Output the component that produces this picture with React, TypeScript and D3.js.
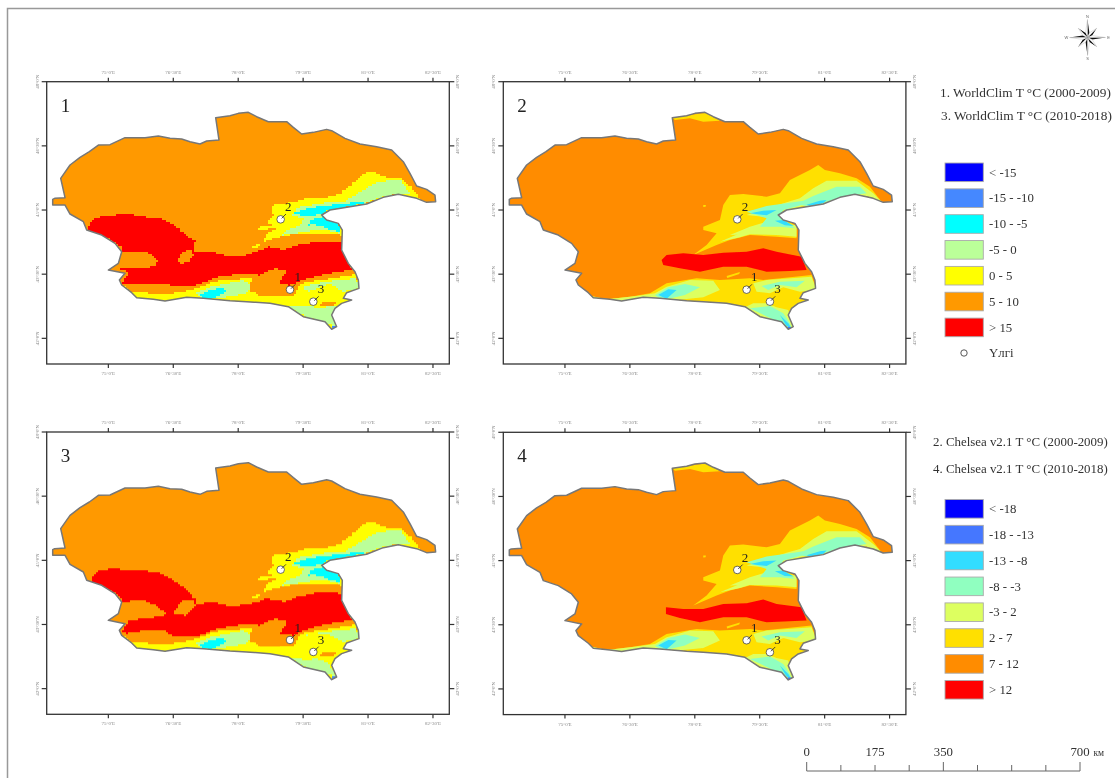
import React from "react";
import * as d3 from "d3";

type Pt = [number, number];

// digitised map sheet units, one sheet shared by all four panels
const sheetX: Pt = [50, 1258];
const sheetY: Pt = [35, 882];

const lonTicks = [75, 76.5, 78, 79.5, 81, 82.5];
const latTicks = [48, 46.5, 45, 43.5, 42];
const lonLabels = ["75°0'E", "76°30'E", "78°0'E", "79°30'E", "81°0'E", "82°30'E"];
const latLabels = ["48°0'N", "46°30'N", "45°0'N", "43°30'N", "42°0'N"];

const outline: Pt[] = [
  [68, 388], [74, 385], [105, 383], [92, 325], [120, 285], [150, 262], [178, 245], [205, 225], [240, 224], [285, 203], [345, 203], [385, 198], [420, 205],
  [455, 207], [480, 215], [510, 222], [530, 213], [567, 210], [557, 143], [600, 137], [625, 130], [655, 127], [680, 140], [715, 155], [770, 155],
  [790, 172], [815, 192], [850, 187], [890, 178], [905, 182], [945, 205], [990, 222], [1040, 230], [1085, 240], [1120, 275], [1140, 310],
  [1160, 348], [1190, 358], [1215, 375], [1217, 395], [1190, 397], [1160, 385], [1105, 373], [1060, 382], [1010, 402], [960, 410], [900, 420],
  [875, 435], [890, 450], [925, 460], [937, 480], [935, 540], [955, 580], [975, 605], [985, 630], [987, 655], [950, 668], [940, 685], [965, 690],
  [935, 700], [915, 715], [905, 735], [920, 770], [905, 778], [885, 755], [820, 740], [775, 710], [720, 700], [650, 695], [600, 692], [520, 685],
  [470, 682], [405, 693], [370, 688], [320, 683], [305, 668], [275, 645], [268, 630], [285, 610], [235, 600], [265, 580], [275, 545], [255, 520],
  [215, 495], [170, 480], [160, 455], [120, 432], [105, 405], [68, 405],
];

// WorldClim classes, panels 1 and 3
const wcNeYellow: Pt[] = [
  [725, 405], [770, 400], [830, 385], [880, 385], [930, 370], [960, 345], [990, 320], [1010, 305], [1040, 310], [1070, 325], [1110, 325], [1140, 350],
  [1172, 390], [1130, 380], [1100, 373], [1060, 385], [1000, 402], [950, 412], [900, 420], [875, 435], [900, 455], [937, 480], [935, 495], [880, 490],
  [830, 490], [780, 495], [735, 505], [700, 517], [710, 490], [740, 472], [700, 480], [672, 473], [730, 465], [710, 455], [730, 435],
];
const wcYellowPatch: Pt[] = [[665, 528], [690, 520], [695, 530], [670, 534]];
const wcNeGreen: Pt[] = [
  [940, 395], [990, 365], [1040, 335], [1110, 330], [1140, 372], [1100, 372], [1040, 385], [1000, 402], [950, 408], [900, 408], [830, 418], [790, 430], [800, 412], [880, 398],
];
const wcMidGreen: Pt[] = [
  [780, 435], [830, 425], [880, 420], [875, 435], [900, 455], [932, 490], [880, 478], [830, 485], [750, 497], [770, 480], [810, 465], [820, 445],
];
const wcCyanBand: Pt[] = [[790, 428], [830, 415], [900, 405], [945, 400], [960, 410], [900, 420], [875, 432], [830, 440]];
const wcCyanGap: Pt[] = [[820, 475], [850, 445], [880, 440], [925, 460], [932, 488], [880, 470], [850, 462]];
const wcCyanNe: Pt[] = [[950, 400], [1000, 394], [1003, 402], [950, 410]];
const wcSouthYellow: Pt[] = [
  [270, 640], [300, 665], [340, 668], [400, 672], [440, 668], [500, 655], [545, 635], [600, 628], [670, 625], [650, 660], [690, 675], [750, 680],
  [790, 675], [810, 640], [870, 630], [975, 612], [990, 660], [940, 720], [920, 780], [880, 770], [770, 715], [650, 700], [500, 690], [400, 700], [320, 690],
];
const wcSouthGreen: Pt[] = [[500, 665], [540, 650], [600, 638], [640, 630], [665, 650], [650, 670], [600, 680], [540, 688], [510, 682]];
const wcSouthCyan: Pt[] = [[510, 672], [540, 660], [575, 650], [590, 665], [545, 688], [520, 684]];
const wcCentralOrange: Pt[] = [[668, 650], [700, 620], [735, 595], [770, 600], [770, 640], [790, 665], [745, 678], [685, 678]];
const wcSeGreen1: Pt[] = [[820, 650], [880, 635], [975, 625], [990, 655], [940, 665], [900, 640], [860, 655], [835, 665]];
const wcTailGreen1: Pt[] = [[775, 710], [825, 705], [860, 715], [920, 705], [905, 740], [920, 770], [895, 760], [830, 740]];
const wcSeGreen3: Pt[] = [[830, 645], [880, 635], [975, 625], [990, 655], [940, 665], [895, 640], [860, 642]];
const wcTailGreen3: Pt[] = [[775, 712], [830, 720], [850, 715], [890, 725], [905, 745], [920, 770], [895, 760], [830, 742]];
const wcSeOrange: Pt[] = [[875, 695], [930, 695], [905, 708], [870, 705]];
const wcTip: Pt[] = [[903, 765], [922, 768], [915, 780], [903, 780]];

const wcRed1: Pt[] = [
  [175, 465], [190, 445], [230, 437], [290, 432], [340, 440], [400, 448], [430, 465], [470, 500], [495, 515], [490, 545], [540, 545], [600, 560], [640, 555],
  [680, 545], [715, 530], [760, 540], [800, 525], [860, 515], [935, 515], [940, 545], [965, 600], [900, 610], [840, 625], [780, 645], [745, 640], [770, 600],
  [735, 595], [690, 615], [640, 610], [570, 620], [500, 645], [450, 650], [400, 640], [340, 640], [275, 640], [295, 605], [265, 597], [290, 595], [370, 590],
  [382, 570], [365, 550], [320, 545], [280, 548], [275, 530], [240, 505], [195, 490], [175, 480],
];
const wcIsland1: Pt[] = [[442, 570], [455, 545], [485, 540], [490, 555], [475, 578], [450, 580]];
const wcRed3: Pt[] = [
  [182, 485], [195, 455], [240, 445], [310, 450], [380, 455], [420, 475], [470, 510], [495, 540], [500, 552], [540, 545], [600, 558], [660, 550], [710, 535],
  [760, 545], [800, 530], [870, 515], [935, 520], [940, 550], [965, 600], [900, 610], [840, 625], [790, 645], [750, 642], [770, 600], [735, 595], [690, 615],
  [640, 612], [570, 625], [510, 645], [440, 650], [400, 630], [340, 632], [290, 640], [275, 635], [295, 600], [380, 590], [410, 580], [380, 555], [340, 540],
  [280, 545], [270, 525], [235, 505], [200, 495],
];
const wcIsland3: Pt[] = [[425, 578], [455, 540], [490, 540], [497, 555], [470, 585]];

// Chelsea classes, panels 2 and 4
const chTopYellow: Pt[] = [[557, 143], [610, 135], [660, 128], [700, 152], [650, 155], [610, 145], [565, 150]];
const chNeYellow: Pt[] = [
  [730, 375], [770, 372], [840, 380], [880, 370], [910, 330], [970, 300], [995, 285], [1015, 300], [1060, 310], [1110, 325], [1150, 350], [1185, 395],
  [1140, 375], [1110, 370], [1070, 385], [1010, 400], [960, 410], [910, 420], [880, 435], [910, 455], [930, 470], [930, 505], [870, 500], [790, 495],
  [730, 510], [690, 525], [620, 555], [660, 525], [690, 490], [650, 480], [650, 470], [700, 450], [710, 405],
];
const chNeLime: Pt[] = [
  [905, 395], [940, 385], [980, 355], [1020, 332], [1110, 332], [1160, 370], [1185, 395], [1140, 378], [1070, 385], [1010, 402], [950, 408], [880, 425], [830, 440], [780, 435],
];
const chMidLime: Pt[] = [[730, 495], [790, 470], [830, 458], [930, 465], [930, 500], [870, 495], [790, 493]];
const chLowStreak: Pt[] = [[700, 515], [760, 490], [830, 480], [760, 502]];
const chNeAqua: Pt[] = [[930, 402], [980, 378], [1050, 350], [1120, 350], [1140, 370], [1070, 380], [1010, 398], [960, 408]];
const chNeCyan: Pt[] = [[960, 404], [1000, 392], [1020, 390], [1010, 400], [970, 408]];
const chMidAqua: Pt[] = [[780, 425], [840, 408], [910, 398], [950, 392], [945, 405], [890, 420], [880, 440], [925, 475], [880, 470], [820, 470], [840, 445]];
const chMidCyan: Pt[] = [[790, 430], [830, 422], [870, 420], [840, 436]];
const chMidCyan2: Pt[] = [[865, 452], [890, 450], [922, 468], [895, 466]];
const chSouthYellow: Pt[] = [
  [272, 640], [310, 678], [360, 688], [430, 680], [490, 670], [540, 640], [630, 625], [700, 630], [790, 625], [830, 630], [975, 615], [990, 660], [940, 720],
  [920, 782], [880, 770], [770, 715], [650, 700], [500, 690], [400, 700], [300, 685],
];
const chSouthLime: Pt[] = [
  [300, 675], [360, 688], [450, 678], [505, 670], [540, 650], [610, 630], [680, 632], [700, 660], [650, 682], [550, 692], [490, 690], [390, 695], [310, 688],
];
const chSouthAqua: Pt[] = [[505, 676], [545, 652], [595, 642], [640, 652], [595, 675], [530, 690]];
const chSouthCyan: Pt[] = [[515, 675], [545, 658], [570, 660], [540, 686]];
const chSeLime: Pt[] = [[800, 640], [840, 630], [975, 620], [990, 660], [940, 665], [890, 652], [850, 670], [810, 665]];
const chSeAqua: Pt[] = [[825, 648], [880, 635], [955, 632], [930, 652], [880, 645], [845, 660]];
const chTailLime: Pt[] = [[775, 712], [800, 700], [840, 700], [870, 712], [905, 720], [915, 760], [920, 782], [880, 770]];
const chTailAqua: Pt[] = [[790, 715], [850, 708], [890, 730], [910, 760], [915, 775], [895, 765]];
const chTailCyan: Pt[] = [[880, 735], [905, 760], [915, 775], [900, 768]];
const chTip: Pt[] = [[903, 770], [920, 772], [915, 782], [903, 780]];
const chDashes: Pt[] = [[720, 618], [760, 606], [758, 612], [722, 624]];
const chSpeck: Pt[] = [[650, 405], [658, 405], [657, 410], [650, 411]];
const chRed2: Pt[] = [
  [525, 570], [540, 555], [590, 550], [650, 555], [710, 548], [780, 545], [830, 535], [870, 545], [945, 560], [960, 600], [910, 603], [840, 605], [780, 590],
  [710, 590], [640, 605], [580, 595], [530, 585],
];
const chRed4: Pt[] = [
  [538, 560], [590, 565], [650, 565], [710, 550], [780, 548], [830, 537], [870, 550], [945, 560], [960, 600], [840, 605], [780, 590], [710, 590], [640, 605],
  [580, 592], [538, 580],
];

const wcColors = ["#0000ff", "#4488ff", "#00ffff", "#bbff99", "#ffff00", "#ff9900", "#ff0000"];
const wcClasses = ["< -15", "-15 - -10", "-10 - -5", "-5 - 0", "0 - 5", "5 - 10", "> 15"];
const chColors = ["#0000ff", "#4477ff", "#30ddff", "#90ffc0", "#ddff60", "#ffe000", "#ff8c00", "#ff0000"];
const chClasses = ["< -18", "-18 - -13", "-13 - -8", "-8 - -3", "-3 - 2", "2 - 7", "7 - 12", "> 12"];

const siteNames = ["2", "1", "3"];
const sites: Pt[] = [[752, 448], [780, 659], [850, 695]];

const wcTitles = ["1. WorldClim T °C (2000-2009)", "3. WorldClim T °C (2010-2018)"];
const chTitles = ["2. Chelsea v2.1 T °C (2000-2009)", "4. Chelsea v2.1 T °C (2010-2018)"];

const scaleStops = [0, 87.5, 175, 262.5, 350, 437.5, 525, 612.5, 700];
const scaleLabels = [0, 175, 350, 700];
const tallStops = [0, 350, 700];

const compassBearings = [0, 45, 90, 135, 180, 225, 270, 315];
const compassLengths = [18, 13, 18, 13, 18, 13, 18, 13];
const compassLetters: [string, number][] = [["N", 0], ["E", 90], ["S", 180], ["W", 270]];

const [cB, cC, cG, cY, cO, cR] = wcColors.slice(1);
const worldClimLayers = (seGreen: Pt[], tailGreen: Pt[], red: Pt[], island: Pt[]): [Pt[], string][] => [
  [wcNeYellow, cY], [wcYellowPatch, cY], [wcNeGreen, cG], [wcMidGreen, cG], [wcCyanBand, cC], [wcCyanGap, cC], [wcCyanNe, cC],
  [wcSouthYellow, cY], [wcSouthGreen, cG], [wcSouthCyan, cC], [wcCentralOrange, cO], [seGreen, cG], [tailGreen, cG], [wcSeOrange, cO], [wcTip, cB],
  [red, cR], [island, cO],
];
const [hB, hC, hA, hL, hY, hO, hR] = chColors.slice(1);
const chelseaLayers = (red: Pt[]): [Pt[], string][] => [
  [chTopYellow, hY], [chNeYellow, hY], [chSpeck, hY], [chDashes, hY], [chNeLime, hL], [chMidLime, hL], [chLowStreak, hL], [chNeAqua, hA], [chMidAqua, hA], [chNeCyan, hC], [chMidCyan, hC], [chMidCyan2, hC],
  [chSouthYellow, hY], [chSouthLime, hL], [chSouthAqua, hA], [chSouthCyan, hC], [chSeLime, hL], [chSeAqua, hA], [chTailLime, hL], [chTailAqua, hA], [chTailCyan, hC], [chTip, hB],
  [red, hR],
];

const panels = [
  { label: "1", x: 46.7, y: 81.7, base: cO, cell: 6, layers: worldClimLayers(wcSeGreen1, wcTailGreen1, wcRed1, wcIsland1) },
  { label: "2", x: 503.3, y: 81.7, base: hO, cell: 0, layers: chelseaLayers(chRed2) },
  { label: "3", x: 46.7, y: 432, base: cO, cell: 6, layers: worldClimLayers(wcSeGreen3, wcTailGreen3, wcRed3, wcIsland3) },
  { label: "4", x: 503.3, y: 432.3, base: hO, cell: 0, layers: chelseaLayers(chRed4) },
];

const serif = "'Liberation Serif', serif";

// snap a class boundary to the raster cells, WorldClim is coarse and its edges are stepped
function toCells(pts: Pt[], cell: number): Pt[] {
  if (!cell) return pts;
  const out: Pt[] = [];
  pts.forEach((a, i) => {
    const b = pts[(i + 1) % pts.length];
    const n = Math.max(1, Math.ceil(Math.hypot(b[0] - a[0], b[1] - a[1]) / cell));
    for (let j = 0; j < n; j++) {
      const px = a[0] + ((b[0] - a[0]) * j) / n;
      const py = a[1] + ((b[1] - a[1]) * j) / n;
      out.push([Math.round(px / cell) * cell, Math.round(py / cell) * cell]);
    }
  });
  out.push(out[0]);
  return out;
}

function Panel({ p, i }: { p: (typeof panels)[number]; i: number }) {
  const w = 402.6;
  const h = 282.3;
  const x = d3.scaleLinear(sheetX, [0, w]);
  const y = d3.scaleLinear(sheetY, [0, h]);
  const lon = d3.scaleLinear([75, 82.5], [x(235), x(1209)]);
  const lat = d3.scaleLinear([48, 42], [0, y(805)]);
  const line = d3.line<Pt>().x((d) => x(d[0])).y((d) => y(d[1])).curve(d3.curveLinearClosed);
  const stepped = d3.line<Pt>().x((d) => x(d[0])).y((d) => y(d[1])).curve(d3.curveStepAfter);
  const clip = `clip-${i}`;
  return (
    <g transform={`translate(${p.x},${p.y})`}>
      <clipPath id={clip}><path d={line(outline)!} /></clipPath>
      <path d={line(outline)!} fill={p.base} />
      <g clipPath={`url(#${clip})`}>
        {p.layers.map(([pts, color], k) => (
          <path key={k} d={p.cell ? stepped(toCells(pts, p.cell))! + "Z" : line(pts)!} fill={color} />
        ))}
      </g>
      <path d={line(outline)!} fill="none" stroke="#777" strokeWidth={1.5} strokeLinejoin="round" />
      <rect width={w} height={h} fill="none" stroke="#333" strokeWidth={1.3} />
      {lonTicks.map((t, k) => (
        <g key={t} stroke="#333" strokeWidth={1.2}>
          <line x1={lon(t)} x2={lon(t)} y1={0} y2={-4} />
          <line x1={lon(t)} x2={lon(t)} y1={h} y2={h + 4} />
          <text x={lon(t)} y={-8} textAnchor="middle" fontSize={5} fill="#888" stroke="none" fontFamily={serif}>{lonLabels[k]}</text>
          <text x={lon(t)} y={h + 11} textAnchor="middle" fontSize={5} fill="#888" stroke="none" fontFamily={serif}>{lonLabels[k]}</text>
        </g>
      ))}
      {latTicks.map((t, k) => (
        <g key={t} stroke="#333" strokeWidth={1.2}>
          <line x1={0} x2={-5} y1={lat(t)} y2={lat(t)} />
          <line x1={w} x2={w + 5} y1={lat(t)} y2={lat(t)} />
          <text transform={`translate(-8,${lat(t)}) rotate(-90)`} textAnchor="middle" fontSize={5} fill="#888" stroke="none" fontFamily={serif}>{latLabels[k]}</text>
          <text transform={`translate(${w + 10},${lat(t)}) rotate(-90)`} textAnchor="middle" fontSize={5} fill="#888" stroke="none" fontFamily={serif}>{latLabels[k]}</text>
        </g>
      ))}
      <text x={x(92)} y={y(125)} fontSize={19} fill="#222" fontFamily={serif}>{p.label}</text>
      {sites.map((s, k) => (
        <g key={k}>
          <circle cx={x(s[0])} cy={y(s[1])} r={3.8} fill="#fff" stroke="#444" strokeWidth={0.8} />
          <line x1={x(s[0] + 3)} y1={y(s[1] - 3)} x2={x(s[0] + 16)} y2={y(s[1] - 16)} stroke="#333" strokeWidth={0.9} />
          <text x={x(s[0] + 23)} y={y(s[1] - 25)} textAnchor="middle" fontSize={13} fill="#222" fontFamily={serif}>{siteNames[k]}</text>
        </g>
      ))}
    </g>
  );
}

function Legend({ top, colors, classes }: { top: number; colors: string[]; classes: string[] }) {
  const y = d3.scaleBand<number>(d3.range(colors.length), [top, top + colors.length * 25.85]);
  return (
    <g fontFamily={serif} fontSize={12.8} fill="#333">
      {colors.map((c, i) => (
        <g key={i}>
          <rect x={945} y={y(i)} width={38.3} height={18.6} fill={c} stroke="#aaa" strokeWidth={0.9} />
          <text x={989} y={y(i)! + 13.5}>{classes[i]}</text>
        </g>
      ))}
    </g>
  );
}

function Compass() {
  const cx = 1087.5;
  const cy = 37.5;
  const rad = (b: number) => (b * Math.PI) / 180;
  const at = (b: number, r: number): Pt => [cx + r * Math.sin(rad(b)), cy - r * Math.cos(rad(b))];
  const area = (pts: Pt[]) => d3.line()(pts)! + "Z";
  return (
    <g>
      {compassBearings.map((b, i) => (
        <g key={b}>
          <path d={area([[cx, cy], at(b, compassLengths[i]), at(b + 22.5, 5)])} fill="#111" />
          <path d={area([[cx, cy], at(b, compassLengths[i]), at(b - 22.5, 5)])} fill="#fff" stroke="#999" strokeWidth={0.3} />
        </g>
      ))}
      {compassLetters.map(([t, b]) => (
        <text key={t} x={at(b, 21)[0]} y={at(b, 21)[1] + 1.5} textAnchor="middle" fontSize={4} fill="#666" fontFamily="'Liberation Sans', sans-serif">{t}</text>
      ))}
    </g>
  );
}

function ScaleBar() {
  const x = d3.scaleLinear([0, 700], [806.7, 1080]);
  const y0 = 771;
  return (
    <g fontFamily={serif} fontSize={12.8} fill="#333">
      <path d={`M${x(0)},${y0}H${x(700)}`} stroke="#666" strokeWidth={1} fill="none" />
      {scaleStops.map((s) => (
        <line key={s} x1={x(s)} x2={x(s)} y1={y0} y2={tallStops.includes(s) ? y0 - 9 : y0 - 6} stroke="#666" strokeWidth={1} />
      ))}
      {scaleLabels.map((s) => <text key={s} x={x(s)} y={755.5} textAnchor="middle">{s}</text>)}
      <text x={1093.5} y={755.5} fontSize={9.5}>км</text>
    </g>
  );
}

export default function App() {
  return (
    <svg width={1115} height={778} viewBox="0 0 1115 778" style={{ position: "absolute", left: 0, top: 0, background: "#fff" }}>
      <defs>
        <filter id="soft" x="0" y="0" width="100%" height="100%"><feGaussianBlur stdDeviation={0.55} /></filter>
      </defs>
      <g filter="url(#soft)">
        <rect width={1115} height={778} fill="#fff" />
        <path d="M7.5,778V8.5H1115" fill="none" stroke="#999" strokeWidth={1.5} />
        {panels.map((p, i) => <Panel key={p.label} p={p} i={i} />)}
        <Compass />
        <g fontFamily={serif} fill="#333">
          <text x={940} y={97} fontSize={13.3}>{wcTitles[0]}</text>
          <text x={941} y={120} fontSize={13.3}>{wcTitles[1]}</text>
          <text x={933} y={446} fontSize={12.9}>{chTitles[0]}</text>
          <text x={933} y={473} fontSize={12.9}>{chTitles[1]}</text>
        </g>
        <Legend top={163} colors={wcColors} classes={wcClasses} />
        <circle cx={964} cy={353} r={3.2} fill="#fff" stroke="#444" strokeWidth={0.9} />
        <text x={989} y={357} fontFamily={serif} fontSize={12.8} fill="#333">Үлгі</text>
        <Legend top={499.5} colors={chColors} classes={chClasses} />
        <ScaleBar />
      </g>
    </svg>
  );
}
